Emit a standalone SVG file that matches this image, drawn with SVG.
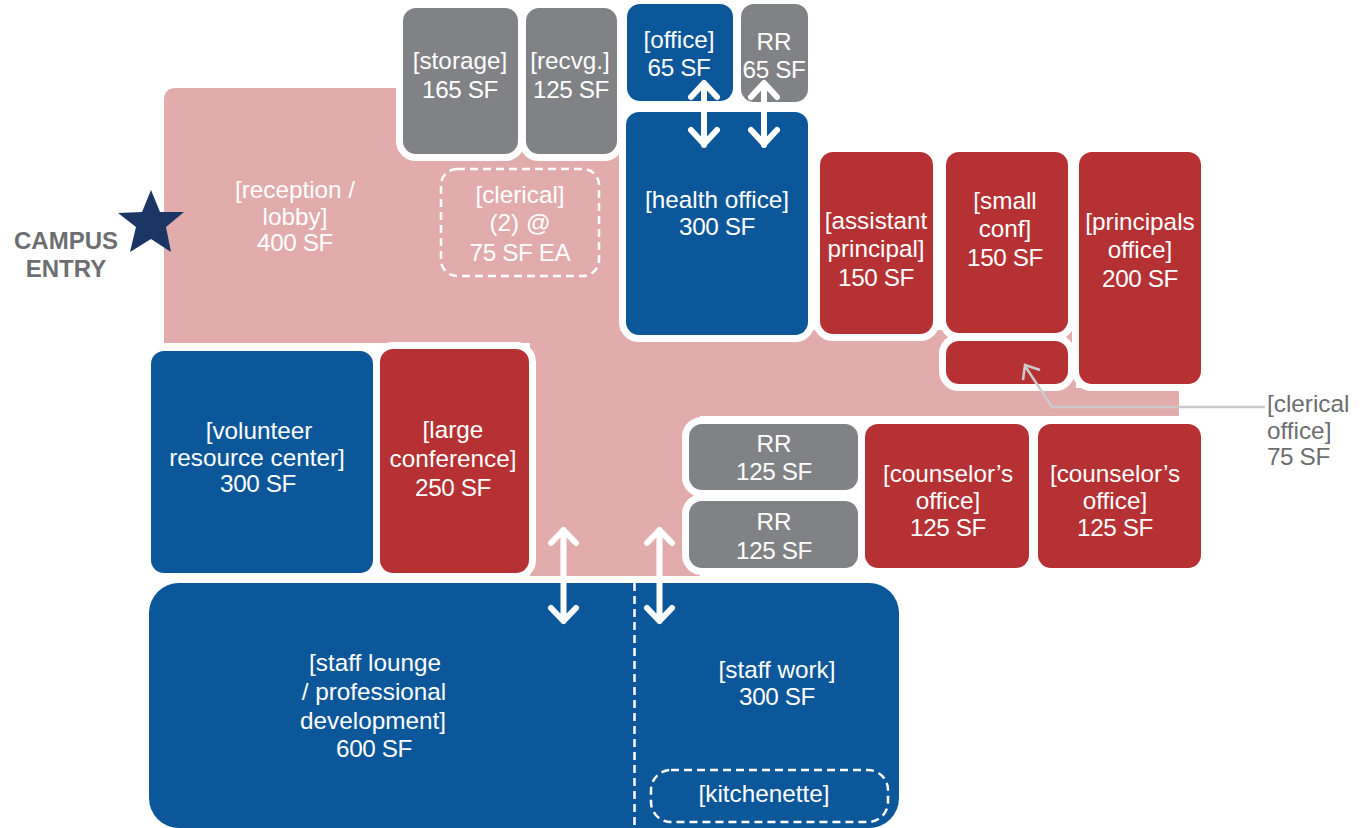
<svg xmlns="http://www.w3.org/2000/svg" width="1372" height="828" viewBox="0 0 1372 828">
<style>
text{font-family:"Liberation Sans",Arial,sans-serif;font-size:24.300px;fill:#fff;text-anchor:middle}
text.sf{letter-spacing:-.4px}
.r{stroke:#fff;stroke-width:14;paint-order:stroke}
.red{fill:#b63134}.blue{fill:#0c5799}.gray{fill:#818285}
.dash{fill:none;stroke:#fff;stroke-width:2.500;stroke-dasharray:8 5}
.arw{fill:none;stroke:#fff;stroke-width:6;stroke-linecap:round;stroke-linejoin:round}
text.note{fill:#6d6e71;text-anchor:start}
text.entry{fill:#6d6e71;font-weight:bold;font-size:24px}
</style>
<g id="lobby">
<path d="M164 343V100Q164 88 176 88H620V330H1076V388H1179V416H700V576H530V343Z" fill="#e2acad"/>
<text x="295" y="198">[reception /</text><text x="295" y="225">lobby]</text><text class="sf" x="295" y="251">400 SF</text>
</g>
<g id="storage"><rect class="r gray" x="403" y="8" width="115" height="146" rx="13"/><text x="460" y="69">[storage]</text><text class="sf" x="460" y="98">165 SF</text></g>
<g id="recvg"><rect class="r gray" x="526" y="8" width="91" height="146" rx="13"/><text x="570" y="69">[recvg.]</text><text class="sf" x="571" y="98">125 SF</text></g>
<g id="clerical2"><rect class="dash" x="441" y="169" width="158" height="107" rx="16"/><text x="520" y="203">[clerical]</text><text x="520" y="231">(2) @</text><text class="sf" x="520" y="261">75 SF EA</text></g>
<g id="office"><rect class="blue" x="627" y="4" width="106" height="97" rx="13"/><text x="679" y="48">[office]</text><text class="sf" x="679" y="76">65 SF</text></g>
<g id="rr-health"><rect class="gray" x="741" y="4" width="67" height="98" rx="13"/><text x="774" y="50">RR</text><text class="sf" x="774" y="78">65 SF</text></g>
<g id="health"><rect class="r blue" x="626" y="112" width="182" height="223" rx="13"/><text x="717" y="208">[health office]</text><text class="sf" x="717" y="235">300 SF</text></g>
<g id="assistant"><rect class="r red" x="820" y="152" width="113" height="182" rx="13"/><text x="876" y="229">[assistant</text><text x="876" y="257">principal]</text><text class="sf" x="876" y="286">150 SF</text></g>
<g id="smallconf"><rect class="r red" x="946" y="152" width="122" height="181" rx="13"/><text x="1005" y="209">[small</text><text x="1005" y="237">conf]</text><text class="sf" x="1005" y="266">150 SF</text></g>
<g id="clerical-office"><rect class="r red" x="946" y="341" width="122" height="43" rx="13"/></g>
<g id="principals"><rect class="r red" x="1079" y="152" width="122" height="232" rx="13"/><text x="1140" y="230">[principals</text><text x="1140" y="258">office]</text><text class="sf" x="1140" y="287">200 SF</text></g>
<g id="volunteer"><rect class="r blue" x="151" y="351" width="222" height="222" rx="13"/><text x="259" y="439">[volunteer</text><text x="257" y="466">resource center]</text><text class="sf" x="258" y="492">300 SF</text></g>
<g id="largeconf"><rect class="r red" x="380" y="349" width="149" height="224" rx="13"/><text x="453" y="438">[large</text><text x="453" y="467">conference]</text><text class="sf" x="453" y="496">250 SF</text></g>
<g id="rr1"><rect class="r gray" x="689" y="424" width="169" height="66" rx="13"/><text x="774" y="452">RR</text><text class="sf" x="774" y="480">125 SF</text></g>
<g id="rr2"><rect class="r gray" x="689" y="501" width="169" height="67" rx="13"/><text x="774" y="530">RR</text><text class="sf" x="774" y="559">125 SF</text></g>
<g id="counselor1"><rect class="r red" x="865" y="424" width="164" height="144" rx="13"/><text x="948" y="482">[counselor’s</text><text x="948" y="509">office]</text><text class="sf" x="948" y="536">125 SF</text></g>
<g id="counselor2"><rect class="r red" x="1038" y="424" width="163" height="144" rx="13"/><text x="1115" y="482">[counselor’s</text><text x="1115" y="509">office]</text><text class="sf" x="1115" y="536">125 SF</text></g>
<g id="staff"><rect class="blue" x="149" y="583" width="750" height="245" rx="30"/>
<text x="375" y="671">[staff lounge</text><text x="374" y="700">/ professional</text><text x="373" y="729">development]</text><text class="sf" x="374" y="757">600 SF</text>
<text x="777" y="678">[staff work]</text><text class="sf" x="777" y="705">300 SF</text>
<path class="dash" d="M634.500 583V828" stroke-dasharray="7 5"/></g>
<g id="kitchenette"><rect class="dash" x="651" y="770" width="237" height="52" rx="20"/><text x="764" y="802">[kitchenette]</text></g>
<g id="entry"><path d="M151 190L160 212H184L166 227L171 252L151 239L130 252L136 227L118 213L142 212Z" fill="#1b3564"/><text class="entry" x="66" y="249">CAMPUS</text><text class="entry" x="66" y="277">ENTRY</text></g>
<g id="connectors">
<path class="arw" d="M704 84V145M691 97L704 83L717 97M691 130L704 144L717 130"/>
<path class="arw" d="M764 84V145M751 97L764 83L777 97M751 130L764 144L777 130"/>
<path class="arw" d="M563.500 530V621M551 543L563.500 530L576 543M551 608L563.500 621L576 608"/>
<path class="arw" d="M659.500 530V621M647 543L659.500 530L672 543M647 608L659.500 621L672 608"/>
<path d="M1265 407H1052L1025 366M1040 370L1025 365L1023 380" fill="none" stroke="#ccc" stroke-width="2.500"/>
</g>
<g id="note"><text class="note" x="1267" y="412">[clerical</text><text class="note" x="1267" y="439">office]</text><text class="note sf" x="1267" y="465">75 SF</text></g>
</svg>
